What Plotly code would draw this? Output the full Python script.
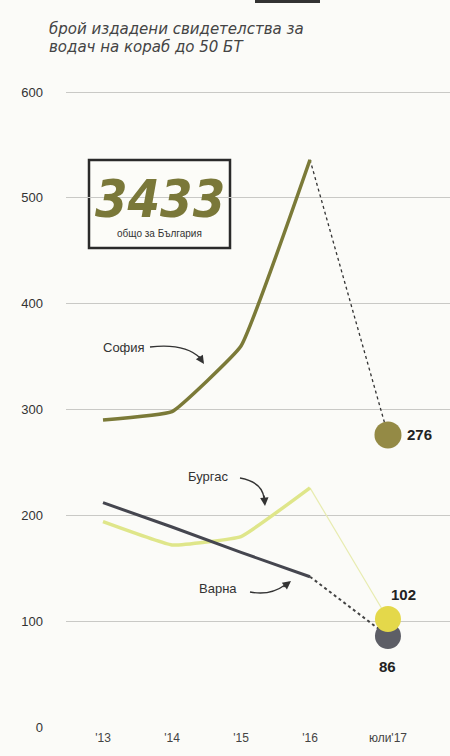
import plotly.graph_objects as go

# ---- data ----
years = [2013, 2014, 2015, 2016]
x_last = 2017.13
tick_vals = [2013, 2014, 2015, 2016, 2017.13]
tick_text = ["'13", "'14", "'15", "'16", "юли'17"]

sofia = [290, 298, 360, 536]
burgas = [194, 172, 180, 226]
varna = [212, 189, 165, 142]
last_vals = {"София": 276, "Бургас": 102, "Варна": 86}
total = "3433"
subtitle_lines = ["брой издадени свидетелства за", "водач на кораб до 50 БТ"]

L, T, W, H = 66, 70, 450, 756
PLOT_W = W - L
PLOT_H = 728 - T

# ---- pixel helpers for decorations only ----
def px(x):
    return 2013 + (x - 103) / 69.0

def py(y):
    return (727 - y) / 1.0583

def paper_x(x):
    return (x - L) / PLOT_W

def paper_y(y):
    return (728 - y) / PLOT_H

SOF = "#7b7a38"
BUR = "#dfe68a"
VAR = "#45464f"
SOF_M = "#948a45"
BUR_M = "#e4d84a"
VAR_M = "#5d5e66"
FONT = "Liberation Sans"

fig = go.Figure()

# connecting dotted segments
fig.add_trace(go.Scatter(x=[years[-1], x_last], y=[sofia[-1], last_vals["София"]],
                         mode="lines", line=dict(color="#333", width=1.3, dash="dot"),
                         hoverinfo="skip", showlegend=False))
fig.add_trace(go.Scatter(x=[years[-1], x_last], y=[varna[-1], last_vals["Варна"]],
                         mode="lines", line=dict(color="#444", width=2, dash="dot"),
                         hoverinfo="skip", showlegend=False))
fig.add_trace(go.Scatter(x=[years[-1], x_last], y=[burgas[-1], last_vals["Бургас"]],
                         mode="lines", line=dict(color="#e8ecb0", width=1.2),
                         hoverinfo="skip", showlegend=False))

# main lines
fig.add_trace(go.Scatter(x=years, y=sofia, mode="lines",
                         line=dict(color=SOF, width=3.5, shape="spline", smoothing=0.3),
                         showlegend=False))
fig.add_trace(go.Scatter(x=years, y=burgas, mode="lines",
                         line=dict(color=BUR, width=3.5, shape="spline", smoothing=0.3),
                         showlegend=False))
fig.add_trace(go.Scatter(x=years, y=varna, mode="lines",
                         line=dict(color=VAR, width=3), showlegend=False))

# end markers
fig.add_trace(go.Scatter(x=[x_last], y=[last_vals["Варна"]], mode="markers",
                         marker=dict(size=26, color=VAR_M), showlegend=False))
fig.add_trace(go.Scatter(x=[x_last], y=[last_vals["Бургас"]], mode="markers",
                         marker=dict(size=26, color=BUR_M), showlegend=False))
fig.add_trace(go.Scatter(x=[x_last], y=[last_vals["София"]], mode="markers",
                         marker=dict(size=27, color=SOF_M), showlegend=False))

ann = []
# value labels
ann.append(dict(x=x_last, y=last_vals["София"], text="<b>276</b>", showarrow=False,
                xshift=17, xanchor="left", font=dict(size=15, color="#222", family=FONT)))
ann.append(dict(x=x_last, y=last_vals["Бургас"], text="<b>102</b>", showarrow=False,
                yshift=25, xshift=1, xanchor="left", font=dict(size=15, color="#222", family=FONT)))
ann.append(dict(x=x_last, y=last_vals["Варна"], text="<b>86</b>", showarrow=False,
                yshift=-31, font=dict(size=15, color="#222", family=FONT)))

# city labels
ann.append(dict(x=px(124), y=py(347), text="София", showarrow=False,
                font=dict(size=13, color="#333", family=FONT)))
ann.append(dict(x=px(208), y=py(476), text="Бургас", showarrow=False,
                font=dict(size=13, color="#333", family=FONT)))
ann.append(dict(x=px(218), y=py(588), text="Варна", showarrow=False,
                font=dict(size=13, color="#333", family=FONT)))

# arrow heads
ann.append(dict(x=px(204), y=py(364), ax=px(198), ay=py(355), axref="x", ayref="y",
                text="", showarrow=True, arrowhead=2, arrowsize=1.2, arrowwidth=1.4, arrowcolor="#333"))
ann.append(dict(x=px(265), y=py(506), ax=px(264), ay=py(494), axref="x", ayref="y",
                text="", showarrow=True, arrowhead=2, arrowsize=1.2, arrowwidth=1.4, arrowcolor="#333"))
ann.append(dict(x=px(291), y=py(581), ax=px(282), ay=py(588), axref="x", ayref="y",
                text="", showarrow=True, arrowhead=2, arrowsize=1.2, arrowwidth=1.4, arrowcolor="#333"))

# box text
ann.append(dict(x=px(160), y=py(199), text="<b><i>" + total + "</i></b>", showarrow=False,
                font=dict(size=52, color="#7a7839", family="DejaVu Sans Condensed, " + FONT)))
ann.append(dict(x=px(159), y=py(233), text="общо за България", showarrow=False,
                font=dict(size=10, color="#333", family=FONT)))

# subtitle (two lines)
for i, line in enumerate(subtitle_lines):
    ann.append(dict(x=paper_x(47), y=paper_y(29 + 18 * i), xref="paper", yref="paper",
                    text="<i>" + line + "</i>", showarrow=False, xanchor="left", yanchor="middle",
                    font=dict(size=15, color="#444", family="DejaVu Sans")))

def path(points):
    s = "M %f,%f" % (px(points[0][0]), py(points[0][1]))
    s += " Q %f,%f %f,%f" % (px(points[1][0]), py(points[1][1]), px(points[2][0]), py(points[2][1]))
    return s

shapes = [
    dict(type="path", xref="x", yref="y", path=path([(150, 347), (185, 343), (200, 358)]),
         line=dict(color="#333", width=1.4)),
    dict(type="path", xref="x", yref="y", path=path([(240, 478), (262, 482), (264, 498)]),
         line=dict(color="#333", width=1.4)),
    dict(type="path", xref="x", yref="y", path=path([(250, 592), (270, 596), (285, 585)]),
         line=dict(color="#333", width=1.4)),
    dict(type="rect", xref="x", yref="y", x0=px(89), x1=px(230), y0=py(160), y1=py(248),
         line=dict(color="#2a2a2a", width=2.5), fillcolor="#fcfcf8", layer="below"),
    # cropped header bar at the very top
    dict(type="rect", xref="paper", yref="paper", x0=paper_x(255), x1=paper_x(320),
         y0=paper_y(3), y1=paper_y(0), line=dict(width=0), fillcolor="#333"),
]

fig.update_layout(
    width=W, height=H,
    margin=dict(l=L, r=0, t=T, b=H - 728, autoexpand=False),
    paper_bgcolor="#fbfbf8", plot_bgcolor="#fbfbf8",
    showlegend=False,
    annotations=ann,
    shapes=shapes,
    font=dict(family=FONT, color="#333"),
    xaxis=dict(range=[px(L), px(W)], tickvals=tick_vals, ticktext=tick_text,
               showgrid=False, zeroline=False, showline=False, ticks="", automargin=False,
               tickfont=dict(size=12, color="#444"), ticklabelstandoff=1),
    yaxis=dict(range=[py(728), py(T)], tickvals=[0, 100, 200, 300, 400, 500, 600],
               showgrid=True, gridcolor="#c9c9c6", gridwidth=1, zeroline=False, automargin=False,
               showline=False, ticks="", tickfont=dict(size=13, color="#333"),
               ticklabelstandoff=22),
)

fig.write_html("out.html", config={"displayModeBar": False},
               post_script="document.body.style.margin='0';document.body.style.overflow='hidden';")
